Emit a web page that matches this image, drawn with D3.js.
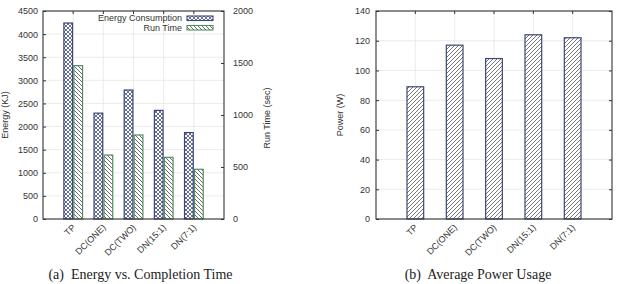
<!DOCTYPE html>
<html>
<head>
<meta charset="utf-8">
<script src="https://cdnjs.cloudflare.com/ajax/libs/d3/7.8.5/d3.min.js"></script>
<style>
  body { margin: 0; background: #fff; }
  svg { display: block; }
  .tick text { font-family: "Liberation Sans", Arial, sans-serif; font-size: 9px; fill: #333; }
  .tick line { stroke: #333; }
  .lbl { font-family: "Liberation Sans", Arial, sans-serif; font-size: 9px; fill: #333; }
  .cap { font-family: "Liberation Serif", "Times New Roman", serif; font-size: 14px; fill: #222; }
</style>
</head>
<body>
<svg id="chart" width="617" height="284"></svg>
<script>
// data
var categories = ["TP", "DC(ONE)", "DC(TWO)", "DN(15:1)", "DN(7:1)"];
var energy = [4240, 2290, 2790, 2350, 1870];   // KJ
var runTime = [1475, 615, 808, 593, 478];      // sec
var power = [89, 117, 108, 124, 122];          // W

var energyTicks = d3.range(0, 4501, 500);
var runTicks = d3.range(0, 2001, 500);
var powerTicks = d3.range(0, 141, 20);

var navy = "#3d4777";
var green = "#4f8f5f";
var frame = "#333";
var fmt = d3.format("d");

var svg = d3.select("#chart");
var defs = svg.append("defs");

// crosshatch for energy bars
var p1 = defs.append("pattern").attr("id", "cross")
    .attr("patternUnits", "userSpaceOnUse").attr("width", 4).attr("height", 4);
p1.append("rect").attr("width", 4).attr("height", 4).attr("fill", "#fff");
p1.append("path").attr("d", "M0,0 L4,4 M4,0 L0,4 M-1,3 L1,5 M3,-1 L5,1 M-1,1 L1,-1 M3,5 L5,3")
    .attr("stroke", "#55608f").attr("stroke-width", 0.9);

// back slash hatch for run time
var p2 = defs.append("pattern").attr("id", "back")
    .attr("patternUnits", "userSpaceOnUse").attr("width", 4).attr("height", 4);
p2.append("rect").attr("width", 4).attr("height", 4).attr("fill", "#fff");
p2.append("path").attr("d", "M0,0 L4,4 M-1,3 L1,5 M3,-1 L5,1")
    .attr("stroke", "#444").attr("stroke-width", 0.8);

// forward slash hatch for power
var p3 = defs.append("pattern").attr("id", "fwd")
    .attr("patternUnits", "userSpaceOnUse").attr("width", 4).attr("height", 4);
p3.append("rect").attr("width", 4).attr("height", 4).attr("fill", "#fff");
p3.append("path").attr("d", "M0,4 L4,0 M-1,1 L1,-1 M3,5 L5,3")
    .attr("stroke", "#555").attr("stroke-width", 0.8);

function drawFrame(g, x, y, yTicks) {
    var x0 = x.range()[0], x1 = x.range()[1];
    var y0 = y.range()[0], y1 = y.range()[1];
    // faint grid
    g.append("g").selectAll("line.h").data(yTicks).enter().append("line")
        .attr("x1", x0).attr("x2", x1)
        .attr("y1", d => y(d)).attr("y2", d => y(d))
        .attr("stroke", "#e6e6e6").attr("stroke-width", 0.8);
    g.append("g").selectAll("line.v").data(categories).enter().append("line")
        .attr("x1", (d, i) => x(i + 1)).attr("x2", (d, i) => x(i + 1))
        .attr("y1", y0).attr("y2", y1)
        .attr("stroke", "#e6e6e6").attr("stroke-width", 0.8);
    // top ticks
    g.append("g").selectAll("line").data(categories).enter().append("line")
        .attr("x1", (d, i) => x(i + 1)).attr("x2", (d, i) => x(i + 1))
        .attr("y1", y1).attr("y2", y1 + 3)
        .attr("stroke", frame);
}

function drawBox(g, x, y) {
    g.append("rect")
        .attr("x", x.range()[0]).attr("y", y.range()[1])
        .attr("width", x.range()[1] - x.range()[0])
        .attr("height", y.range()[0] - y.range()[1])
        .attr("fill", "none").attr("stroke", frame).attr("stroke-width", 1.1);
}

function xLabels(g, x, y0) {
    g.append("g").selectAll("text").data(categories).enter().append("text")
        .attr("class", "lbl")
        .attr("text-anchor", "end")
        .attr("transform", (d, i) => `translate(${x(i + 1) + 3},${y0 + 9}) rotate(-45)`)
        .text(d => d);
}

// ---------- (a) energy vs completion time ----------
var xA = d3.scaleLinear().domain([0, 6]).range([43, 224]);
var yE = d3.scaleLinear().domain([0, 4500]).range([219, 11]);
var yR = d3.scaleLinear().domain([0, 2000]).range([219, 11]);
var gA = svg.append("g");

drawFrame(gA, xA, yE, energyTicks);

var bw = 8.7;
gA.append("g").selectAll("rect").data(energy).enter().append("rect")
    .attr("x", (d, i) => xA(i + 1) - 0.6 - bw)
    .attr("y", d => yE(d))
    .attr("width", bw)
    .attr("height", d => yE(0) - yE(d))
    .attr("fill", "url(#cross)").attr("stroke", navy).attr("stroke-width", 1.2);

gA.append("g").selectAll("rect").data(runTime).enter().append("rect")
    .attr("x", (d, i) => xA(i + 1) + 0.7)
    .attr("y", d => yR(d))
    .attr("width", bw)
    .attr("height", d => yR(0) - yR(d))
    .attr("fill", "url(#back)").attr("stroke", green).attr("stroke-width", 1.2);

gA.append("g").attr("transform", "translate(43,0)")
    .call(d3.axisLeft(yE).tickValues(energyTicks).tickFormat(fmt).tickSize(-3).tickPadding(5))
    .call(g => g.select(".domain").remove());
gA.append("g").attr("transform", "translate(224,0)")
    .call(d3.axisRight(yR).tickValues(runTicks).tickFormat(fmt).tickSize(-3).tickPadding(9))
    .call(g => g.select(".domain").remove());

drawBox(gA, xA, yE);
xLabels(gA, xA, 219);

gA.append("text").attr("class", "lbl").attr("text-anchor", "middle")
    .attr("transform", "translate(8,115) rotate(-90)").text("Energy (KJ)");
gA.append("text").attr("class", "lbl").attr("text-anchor", "middle")
    .attr("transform", "translate(270,118) rotate(-90)").text("Run Time (sec)");

// legend
var legend = gA.append("g");
var legendItems = [
    { name: "Energy Consumption", fill: "url(#cross)", stroke: navy },
    { name: "Run Time", fill: "url(#back)", stroke: green }
];
legend.selectAll("text").data(legendItems).enter().append("text")
    .attr("class", "lbl").attr("text-anchor", "end")
    .attr("x", 182).attr("y", (d, i) => 21 + i * 9.5)
    .text(d => d.name);
legend.selectAll("rect").data(legendItems).enter().append("rect")
    .attr("x", 187).attr("y", (d, i) => 16 + i * 9.5)
    .attr("width", 26).attr("height", 4.5)
    .attr("fill", d => d.fill).attr("stroke", d => d.stroke).attr("stroke-width", 1.1);

gA.append("text").attr("class", "cap").attr("text-anchor", "middle")
    .attr("x", 140.5).attr("y", 279).text("(a)\u00a0 Energy vs. Completion Time");

// ---------- (b) average power usage ----------
var xB = d3.scaleLinear().domain([0, 6]).range([376, 612]);
var yP = d3.scaleLinear().domain([0, 140]).range([219, 11]);
var gB = svg.append("g");

drawFrame(gB, xB, yP, powerTicks);

var pw = 16.7;
gB.append("g").selectAll("rect").data(power).enter().append("rect")
    .attr("x", (d, i) => xB(i + 1) - pw / 2)
    .attr("y", d => yP(d))
    .attr("width", pw)
    .attr("height", d => yP(0) - yP(d))
    .attr("fill", "url(#fwd)").attr("stroke", navy).attr("stroke-width", 1.2);

gB.append("g").attr("transform", "translate(376,0)")
    .call(d3.axisLeft(yP).tickValues(powerTicks).tickFormat(fmt).tickSize(-3).tickPadding(6))
    .call(g => g.select(".domain").remove());
gB.append("g").attr("transform", "translate(612,0)")
    .call(d3.axisRight(yP).tickValues(powerTicks).tickSize(-3).tickFormat(""))
    .call(g => g.select(".domain").remove());

drawBox(gB, xB, yP);
xLabels(gB, xB, 219);

gB.append("text").attr("class", "lbl").attr("text-anchor", "middle")
    .attr("transform", "translate(343,115) rotate(-90)").text("Power (W)");

gB.append("text").attr("class", "cap").attr("text-anchor", "middle")
    .attr("x", 478).attr("y", 279).text("(b)\u00a0 Average Power Usage");
</script>
</body>
</html>
